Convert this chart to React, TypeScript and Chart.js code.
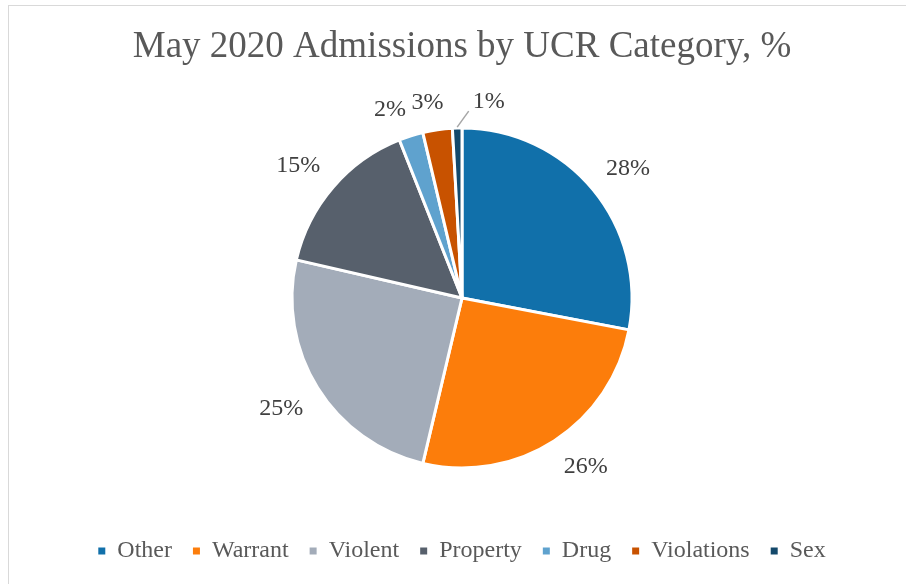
import React, { useEffect, useRef } from 'react';
import { Chart, registerables } from 'chart.js';

Chart.register(...registerables);

const chartTitle = 'May 2020 Admissions by UCR Category, %';
const categories = ['Other', 'Warrant', 'Violent', 'Property', 'Drug', 'Violations', 'Sex'];
const shares = [28.0, 25.7, 24.9, 15.4, 2.3, 2.8, 0.9];
const sliceColors = ['#1170aa', '#fc7d0b', '#a3acb9', '#57606c', '#5fa2ce', '#c85200', '#14496b'];

const FONT = "'Liberation Serif', 'Times New Roman', serif";

const clamp = (v: number) => Math.max(-1, Math.min(1, v));

const pctLabels = {
  id: 'pctLabels',
  afterDatasetsDraw(chart: any) {
    const ctx = chart.ctx;
    const meta = chart.getDatasetMeta(0);
    const data = chart.data.datasets[0].data as number[];
    ctx.save();
    ctx.font = `24px ${FONT}`;
    ctx.fillStyle = '#404040';
    ctx.textAlign = 'center';
    ctx.textBaseline = 'middle';
    meta.data.forEach((arc: any, i: number) => {
      const { x, y, startAngle, endAngle, outerRadius } = arc.getProps(
        ['x', 'y', 'startAngle', 'endAngle', 'outerRadius'],
        true
      );
      const mid = (startAngle + endAngle) / 2;
      const v = data[i];
      const text = Math.round(v) + '%';
      const hw = ctx.measureText(text).width / 2;
      const hh = 11;
      const tiny = v < 1.5;
      const ang = tiny ? mid + (8 * Math.PI) / 180 : mid;
      const dx = Math.cos(ang);
      const dy = Math.sin(ang);
      const dist = outerRadius + 17;
      const tx = x + dx * dist + hw * clamp(dx / 0.3);
      const ty = y + dy * dist + hh * clamp(dy / 0.3);
      if (tiny) {
        ctx.save();
        ctx.strokeStyle = '#a6a6a6';
        ctx.lineWidth = 1.5;
        ctx.beginPath();
        ctx.moveTo(x + Math.cos(mid) * (outerRadius + 1), y + Math.sin(mid) * (outerRadius + 1));
        ctx.lineTo(tx - hw - 4, ty + hh - 1);
        ctx.stroke();
        ctx.restore();
      }
      ctx.fillText(text, tx, ty + 1);
    });
    ctx.restore();
  },
};

export default function App() {
  const ref = useRef<HTMLCanvasElement | null>(null);

  useEffect(() => {
    if (!ref.current) return;
    const baseGen = (Chart as any).overrides.doughnut.plugins.legend.labels.generateLabels;
    const chart = new Chart(ref.current, {
      type: 'pie',
      data: {
        labels: categories,
        datasets: [
          {
            data: shares,
            backgroundColor: sliceColors,
            borderColor: '#ffffff',
            borderWidth: 3,
            radius: 170,
          } as any,
        ],
      },
      options: {
        responsive: false,
        animation: false,
        devicePixelRatio: 1,
        events: [],
        layout: { padding: { left: 18, right: 0, top: 0, bottom: 11 } },
        plugins: {
          title: {
            display: true,
            text: chartTitle,
            color: '#595959',
            font: { family: FONT, size: 37, weight: 'normal' },
            padding: { top: 25, bottom: 8.6 },
          },
          legend: {
            position: 'bottom',
            labels: {
              boxWidth: 7,
              boxHeight: 7,
              padding: 21,
              color: '#595959',
              font: { family: FONT, size: 24 },
              generateLabels: (c: any) =>
                baseGen(c).map((it: any) => ({ ...it, lineWidth: 0, strokeStyle: 'rgba(0,0,0,0)' })),
            },
          },
          tooltip: { enabled: false },
        },
      } as any,
      plugins: [pctLabels],
    });
    return () => chart.destroy();
  }, []);

  return (
    <div
      style={{
        position: 'fixed',
        left: 0,
        top: 0,
        width: 906,
        height: 584,
        background: '#ffffff',
        overflow: 'hidden',
      }}
    >
      <div
        style={{
          position: 'absolute',
          left: 8,
          top: 5,
          width: 930,
          height: 620,
          border: '1.5px solid #d9d9d9',
        }}
      />
      <canvas
        ref={ref}
        width={906}
        height={584}
        style={{ position: 'absolute', left: 0, top: 0, width: 906, height: 584 }}
      />
    </div>
  );
}
